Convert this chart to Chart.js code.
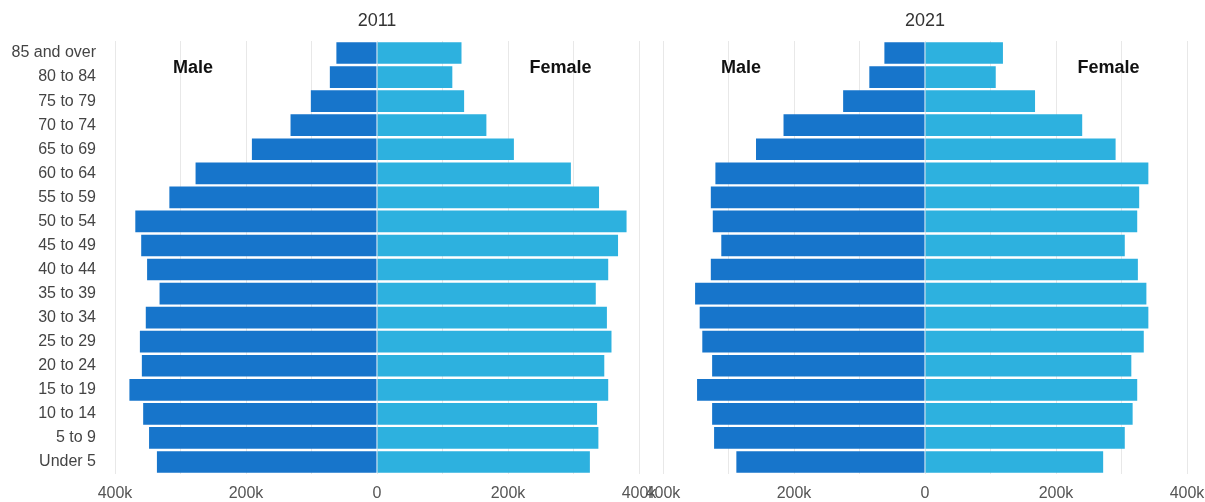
<!DOCTYPE html>
<html>
<head>
<meta charset="utf-8">
<script src="https://cdn.jsdelivr.net/npm/chart.js@4.4.1/dist/chart.umd.min.js"></script>
<style>
    body { margin: 0; background: #fff; overflow: hidden; }
    .box { position: absolute; top: 0; height: 502px; }
    #box2011 { left: 0; width: 660px; }
    #box2021 { left: 640px; width: 565px; }
</style>
</head>
<body>
<div class="box" id="box2011"><canvas id="chart2011"></canvas></div>
<div class="box" id="box2021"><canvas id="chart2021"></canvas></div>
<script>
// Grupos de edad (de arriba a abajo)
const ageGroups = ['85 and over', '80 to 84', '75 to 79', '70 to 74', '65 to 69', '60 to 64',
    '55 to 59', '50 to 54', '45 to 49', '40 to 44', '35 to 39', '30 to 34',
    '25 to 29', '20 to 24', '15 to 19', '10 to 14', '5 to 9', 'Under 5'];

// Población 2011
const male2011 = [62000, 72000, 101000, 132000, 191000, 277000, 317000, 369000, 360000,
    351000, 332000, 353000, 362000, 359000, 378000, 357000, 348000, 336000];
const female2011 = [129000, 115000, 133000, 167000, 209000, 296000, 339000, 381000, 368000,
    353000, 334000, 351000, 358000, 347000, 353000, 336000, 338000, 325000];

// Población 2021
const male2021 = [62000, 85000, 125000, 216000, 258000, 320000, 327000, 324000, 311000,
    327000, 351000, 344000, 340000, 325000, 348000, 325000, 322000, 288000];
const female2021 = [119000, 108000, 168000, 240000, 291000, 341000, 327000, 324000, 305000,
    325000, 338000, 341000, 334000, 315000, 324000, 317000, 305000, 272000];

const sexLabels = ['Male', 'Female'];
const axisMax = 400000;

const maleColor = '#1775cb';
const femaleColor = '#2db1df';
const fontFamily = '"Liberation Sans", Arial, sans-serif';

// Título del año (centrado sobre el 0) y etiquetas "Male" / "Female"
const pyramidTextPlugin = {
    id: 'pyramidText',
    afterDatasetsDraw(chart, args, opts) {
        const ctx = chart.ctx;
        const x = chart.scales.x;
        const y = chart.scales.y;
        const yPos = y.getPixelForValue(0) + 15;
        ctx.save();
        ctx.textAlign = 'center';
        ctx.textBaseline = 'middle';
        ctx.font = '18px ' + fontFamily;
        ctx.fillStyle = '#333';
        ctx.fillText(opts.year, x.getPixelForValue(0), 21);
        ctx.font = 'bold 18px ' + fontFamily;
        ctx.fillStyle = '#111';
        ctx.fillText(sexLabels[0], x.getPixelForValue(-281000), yPos);
        ctx.fillText(sexLabels[1], x.getPixelForValue(280000), yPos);
        ctx.restore();
    }
};

function noOverhang(scale) {
    scale.paddingLeft = 0;
    scale.paddingRight = 0;
    scale.paddingTop = 0;
    scale.paddingBottom = 0;
}

function makePyramid(canvasId, year, maleData, femaleData, showY, padLeft, padRight) {
    const ctx = document.getElementById(canvasId).getContext('2d');
    return new Chart(ctx, {
        type: 'bar',
        data: {
            labels: ageGroups,
            datasets: [{
                label: sexLabels[0],
                data: maleData.map(v => -v),
                backgroundColor: maleColor,
                barPercentage: 0.9,
                categoryPercentage: 1.0
            }, {
                label: sexLabels[1],
                data: femaleData,
                backgroundColor: femaleColor,
                barPercentage: 0.9,
                categoryPercentage: 1.0
            }]
        },
        options: {
            indexAxis: 'y',
            responsive: true,
            maintainAspectRatio: false,
            animation: false,
            layout: { padding: { top: 41, bottom: 1, left: padLeft, right: padRight } },
            plugins: {
                legend: { display: false },
                tooltip: { enabled: false },
                title: { display: false },
                pyramidText: { year: year }
            },
            scales: {
                x: {
                    stacked: true,
                    min: -axisMax,
                    max: axisMax,
                    grid: { color: '#e8e8e8', drawTicks: false },
                    border: { display: false },
                    ticks: {
                        stepSize: 100000,
                        padding: 10,
                        color: '#555',
                        font: { family: fontFamily, size: 16 },
                        maxRotation: 0,
                        autoSkip: false,
                        callback: function(value) {
                            if (Math.abs(value) % 200000 !== 0) return '';
                            return value === 0 ? '0' : Math.abs(value) / 1000 + 'k';
                        }
                    },
                    afterFit: function(scale) {
                        scale.height = 27;
                        noOverhang(scale);
                    }
                },
                y: {
                    stacked: true,
                    display: true,
                    grid: { display: false, drawTicks: false },
                    border: { display: false },
                    ticks: {
                        display: showY,
                        padding: 19,
                        color: '#444',
                        font: { family: fontFamily, size: 16 }
                    },
                    afterFit: function(scale) {
                        scale.width = showY ? 115 : 0;
                        noOverhang(scale);
                    }
                }
            }
        },
        plugins: [pyramidTextPlugin]
    });
}

makePyramid('chart2011', '2011', male2011, female2011, true, 0, 21);
makePyramid('chart2021', '2021', male2021, female2021, false, 23, 18);
</script>
</body>
</html>
